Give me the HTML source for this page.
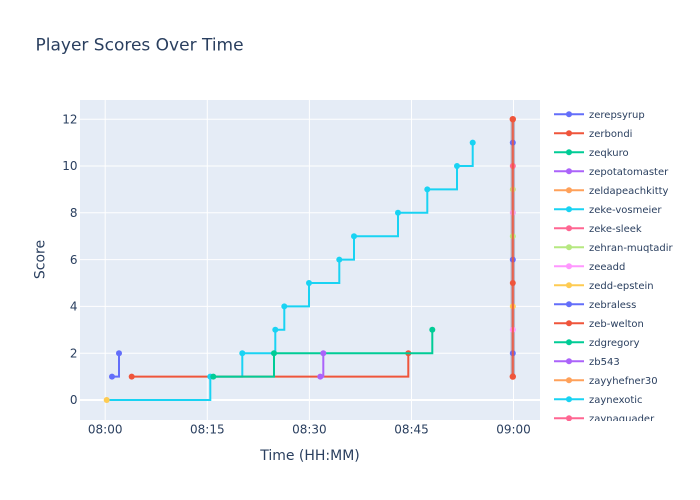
<!DOCTYPE html>
<html><head><meta charset="utf-8"><style>
html,body{margin:0;padding:0;background:#fff;}
svg{display:block;font-family:"DejaVu Sans","Liberation Sans",sans-serif;}
</style></head><body>
<svg width="700" height="500" viewBox="0 0 700 500" xmlns="http://www.w3.org/2000/svg">
<rect x="0" y="0" width="700" height="500" fill="#fff"/>
<rect x="80" y="100" width="460" height="320" fill="#e5ecf6"/>
<g stroke="#fff" stroke-width="1">
<line x1="80" x2="540" y1="353.2" y2="353.2"/>
<line x1="80" x2="540" y1="306.4" y2="306.4"/>
<line x1="80" x2="540" y1="259.6" y2="259.6"/>
<line x1="80" x2="540" y1="212.8" y2="212.8"/>
<line x1="80" x2="540" y1="166" y2="166"/>
<line x1="80" x2="540" y1="119.2" y2="119.2"/>
<line y1="100" y2="420" x1="105.2" x2="105.2"/>
<line y1="100" y2="420" x1="207.3" x2="207.3"/>
<line y1="100" y2="420" x1="309.4" x2="309.4"/>
<line y1="100" y2="420" x1="411.5" x2="411.5"/>
<line y1="100" y2="420" x1="513.5" x2="513.5"/>
</g>
<line x1="80" x2="540" y1="400" y2="400" stroke="#fff" stroke-width="2"/>

<g fill="none" stroke-width="2" stroke-linejoin="miter">
<path d="M106.7,400 H210.3 V376.6 H242.3 V353.2 H275.3 V329.8 H284.3 V306.4 H309 V283 H339.3 V259.6 H354 V236.2 H398 V212.8 H427.3 V189.4 H457 V166 H472.7 V142.6" stroke="#19d3f3"/>
<path d="M131.7,376.6 H408.3 V353.2" stroke="#ef553b"/>
<path d="M112,376.6 H119 V353.2" stroke="#636efa"/>
</g>
<g fill="#19d3f3">
<circle cx="210.3" cy="376.6" r="3"/><circle cx="242.3" cy="353.2" r="3"/><circle cx="275.3" cy="329.8" r="3"/>
<circle cx="284.3" cy="306.4" r="3"/><circle cx="309" cy="283" r="3"/><circle cx="339.3" cy="259.6" r="3"/>
<circle cx="354" cy="236.2" r="3"/><circle cx="398" cy="212.8" r="3"/><circle cx="427.3" cy="189.4" r="3"/>
<circle cx="457" cy="166" r="3"/><circle cx="472.7" cy="142.6" r="3"/>
</g>
<g fill="#ef553b"><circle cx="131.7" cy="376.6" r="3"/><circle cx="408.3" cy="353.2" r="3"/></g>
<g fill="#636efa"><circle cx="112" cy="376.6" r="3"/><circle cx="119" cy="353.2" r="3"/></g>
<path d="M213.3,376.6 H274 V353.2 H432.3 V329.8" fill="none" stroke="#00cc96" stroke-width="2"/>
<g fill="#00cc96"><circle cx="213.3" cy="376.6" r="3"/><circle cx="274" cy="353.2" r="3"/><circle cx="432.3" cy="329.8" r="3"/></g>
<path d="M320.3,376.6 H323.3 V353.2" fill="none" stroke="#ab63fa" stroke-width="2"/>
<g fill="#ab63fa"><circle cx="320.3" cy="376.6" r="3"/><circle cx="323.3" cy="353.2" r="3"/></g>
<circle cx="106.7" cy="400" r="3" fill="#fecb52"/>

<!-- 09:00 cluster -->
<line x1="512.8" x2="512.8" y1="119.2" y2="376.6" stroke="#9c93a8" stroke-width="4.5" opacity="0.6"/>
<g>
<circle cx="512.8" cy="142.6" r="3" fill="#636efa"/>
<circle cx="512.8" cy="166" r="3" fill="#ff6692"/>
<circle cx="512.8" cy="189.4" r="3" fill="#c8d080"/>
<circle cx="512.8" cy="212.8" r="3" fill="#e8a0e8"/>
<circle cx="512.8" cy="236.2" r="3" fill="#b6e880"/>
<circle cx="512.8" cy="259.6" r="3" fill="#636efa"/>
<circle cx="512.8" cy="283" r="3" fill="#ef553b"/>
<circle cx="512.8" cy="306.4" r="3" fill="#fecb52"/>
<circle cx="512.8" cy="329.8" r="3" fill="#ff97ff"/>
<circle cx="512.8" cy="353.2" r="3" fill="#636efa"/>
</g>
<line x1="512.8" x2="512.8" y1="119.2" y2="376.6" stroke="#ef553b" stroke-width="2.2" opacity="0.85"/>
<circle cx="512.8" cy="119.2" r="3.2" fill="#ef553b"/>
<circle cx="512.8" cy="376.6" r="3.2" fill="#ef553b"/>

<!-- axes labels -->
<g fill="#2a3f5f" font-size="12" text-anchor="end">
<text x="77.5" y="404.2">0</text>
<text x="77.5" y="357.4">2</text>
<text x="77.5" y="310.6">4</text>
<text x="77.5" y="263.8">6</text>
<text x="77.5" y="217">8</text>
<text x="77.5" y="170.2">10</text>
<text x="77.5" y="123.4">12</text>
</g>
<g fill="#2a3f5f" font-size="12" text-anchor="middle">
<text x="105.2" y="433.5">08:00</text>
<text x="207.3" y="433.5">08:15</text>
<text x="309.4" y="433.5">08:30</text>
<text x="411.5" y="433.5">08:45</text>
<text x="513.5" y="433.5">09:00</text>
</g>
<text x="310" y="460" fill="#2a3f5f" font-size="14" text-anchor="middle">Time (HH:MM)</text>
<text transform="translate(44.5,259.5) rotate(-90)" fill="#2a3f5f" font-size="14" text-anchor="middle">Score</text>
<text x="35.5" y="50.5" fill="#2a3f5f" font-size="17">Player Scores Over Time</text>

<!-- legend -->
<defs><clipPath id="lc"><rect x="545" y="100" width="155" height="321"/></clipPath></defs>
<g clip-path="url(#lc)" font-size="10" fill="#2a3f5f">
<g stroke-width="2">
<line x1="554" x2="584" y1="114.3" y2="114.3" stroke="#636efa"/>
<line x1="554" x2="584" y1="133.3" y2="133.3" stroke="#ef553b"/>
<line x1="554" x2="584" y1="152.3" y2="152.3" stroke="#00cc96"/>
<line x1="554" x2="584" y1="171.3" y2="171.3" stroke="#ab63fa"/>
<line x1="554" x2="584" y1="190.3" y2="190.3" stroke="#ffa15a"/>
<line x1="554" x2="584" y1="209.3" y2="209.3" stroke="#19d3f3"/>
<line x1="554" x2="584" y1="228.3" y2="228.3" stroke="#ff6692"/>
<line x1="554" x2="584" y1="247.3" y2="247.3" stroke="#b6e880"/>
<line x1="554" x2="584" y1="266.3" y2="266.3" stroke="#ff97ff"/>
<line x1="554" x2="584" y1="285.3" y2="285.3" stroke="#fecb52"/>
<line x1="554" x2="584" y1="304.3" y2="304.3" stroke="#636efa"/>
<line x1="554" x2="584" y1="323.3" y2="323.3" stroke="#ef553b"/>
<line x1="554" x2="584" y1="342.3" y2="342.3" stroke="#00cc96"/>
<line x1="554" x2="584" y1="361.3" y2="361.3" stroke="#ab63fa"/>
<line x1="554" x2="584" y1="380.3" y2="380.3" stroke="#ffa15a"/>
<line x1="554" x2="584" y1="399.3" y2="399.3" stroke="#19d3f3"/>
<line x1="554" x2="584" y1="418.3" y2="418.3" stroke="#ff6692"/>
</g>
<circle cx="569" cy="114.3" r="3" fill="#636efa"/>
<circle cx="569" cy="133.3" r="3" fill="#ef553b"/>
<circle cx="569" cy="152.3" r="3" fill="#00cc96"/>
<circle cx="569" cy="171.3" r="3" fill="#ab63fa"/>
<circle cx="569" cy="190.3" r="3" fill="#ffa15a"/>
<circle cx="569" cy="209.3" r="3" fill="#19d3f3"/>
<circle cx="569" cy="228.3" r="3" fill="#ff6692"/>
<circle cx="569" cy="247.3" r="3" fill="#b6e880"/>
<circle cx="569" cy="266.3" r="3" fill="#ff97ff"/>
<circle cx="569" cy="285.3" r="3" fill="#fecb52"/>
<circle cx="569" cy="304.3" r="3" fill="#636efa"/>
<circle cx="569" cy="323.3" r="3" fill="#ef553b"/>
<circle cx="569" cy="342.3" r="3" fill="#00cc96"/>
<circle cx="569" cy="361.3" r="3" fill="#ab63fa"/>
<circle cx="569" cy="380.3" r="3" fill="#ffa15a"/>
<circle cx="569" cy="399.3" r="3" fill="#19d3f3"/>
<circle cx="569" cy="418.3" r="3" fill="#ff6692"/>
<text x="589" y="117.8">zerepsyrup</text>
<text x="589" y="136.8">zerbondi</text>
<text x="589" y="155.8">zeqkuro</text>
<text x="589" y="174.8">zepotatomaster</text>
<text x="589" y="193.8">zeldapeachkitty</text>
<text x="589" y="212.8">zeke-vosmeier</text>
<text x="589" y="231.8">zeke-sleek</text>
<text x="589" y="250.8">zehran-muqtadir</text>
<text x="589" y="269.8">zeeadd</text>
<text x="589" y="288.8">zedd-epstein</text>
<text x="589" y="307.8">zebraless</text>
<text x="589" y="326.8">zeb-welton</text>
<text x="589" y="345.8">zdgregory</text>
<text x="589" y="364.8">zb543</text>
<text x="589" y="383.8">zayyhefner30</text>
<text x="589" y="402.8">zaynexotic</text>
<text x="589" y="421.8">zaynaquader</text>
</g>
</svg>
</body></html>
